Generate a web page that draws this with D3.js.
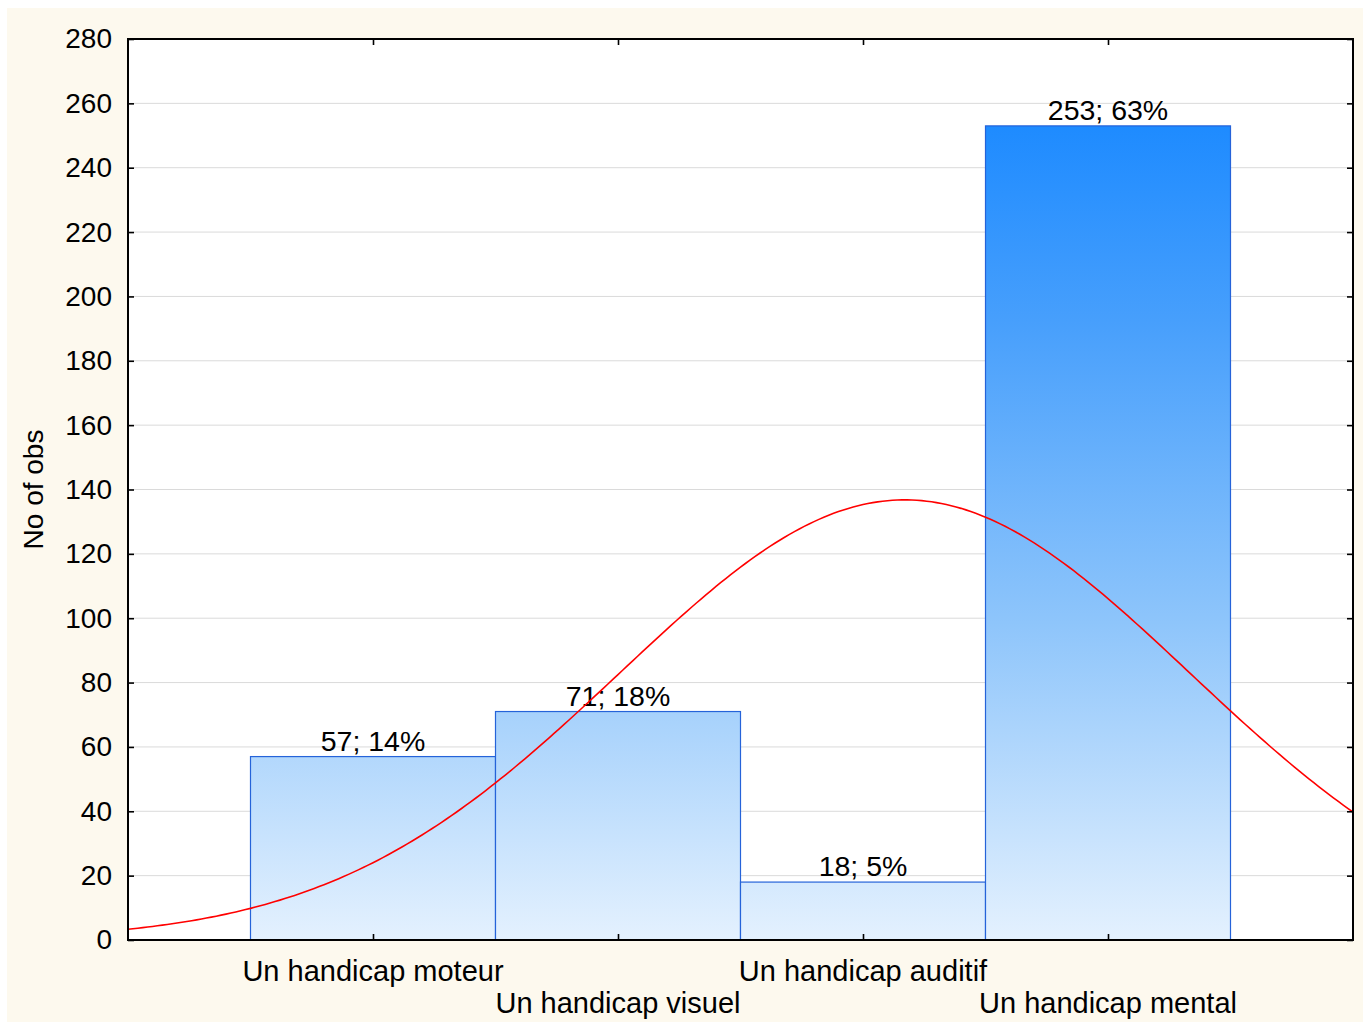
<!DOCTYPE html>
<html>
<head>
<meta charset="utf-8">
<script src="https://cdn.jsdelivr.net/npm/d3@7"></script>
<style>
  html, body { margin: 0; padding: 0; background: #ffffff; }
  svg { display: block; }
  text { font-family: "Liberation Sans", Arial, sans-serif; fill: #000; }
</style>
</head>
<body>
<script>
// ---- data ----
const categories = ["Un handicap moteur", "Un handicap visuel", "Un handicap auditif", "Un handicap mental"];
const counts = [57, 71, 18, 253];
const percentLabels = ["14%", "18%", "5%", "63%"];
const yTickValues = [0, 20, 40, 60, 80, 100, 120, 140, 160, 180, 200, 220, 240, 260, 280];
const yTitle = "No of obs";

// ---- layout ----
const W = 1370, H = 1022;
const L = 128, T = 39, R = 1353, B = 940;

const svg = d3.select("body").append("svg").attr("width", W).attr("height", H);

// cream background
svg.append("rect").attr("x", 7).attr("y", 8).attr("width", 1356).attr("height", H - 8).attr("fill", "#fdf9ee");
svg.append("rect").attr("x", L).attr("y", T).attr("width", R - L).attr("height", B - T).attr("fill", "#ffffff");

const x = d3.scaleLinear().domain([0, categories.length + 1]).range([L, R]);
const y = d3.scaleLinear().domain([0, 280]).range([B, T]);

const defs = svg.append("defs");
const grad = defs.append("linearGradient").attr("id", "barGrad")
  .attr("gradientUnits", "userSpaceOnUse")
  .attr("x1", 0).attr("x2", 0).attr("y1", y(0)).attr("y2", y(d3.max(counts)));
[[0, "#e4f1fe"], [0.39, "#8ec5fb"], [0.76, "#479ffc"], [1, "#1e8bff"]].forEach(([o, c]) =>
  grad.append("stop").attr("offset", o).attr("stop-color", c));
defs.append("clipPath").attr("id", "plotClip").append("rect")
  .attr("x", L).attr("y", T).attr("width", R - L).attr("height", B - T);

// gridlines
svg.append("g").selectAll("line").data(yTickValues.filter(v => v > 0 && v < 280)).join("line")
  .attr("x1", L).attr("x2", R).attr("y1", d => y(d)).attr("y2", d => y(d))
  .attr("stroke", "#dadada").attr("stroke-width", 1);

// bars
svg.append("g").selectAll("rect").data(counts).join("rect")
  .attr("x", (d, i) => x(i + 0.5))
  .attr("width", (d, i) => x(i + 1.5) - x(i + 0.5))
  .attr("y", d => y(d))
  .attr("height", d => y(0) - y(d))
  .attr("fill", "url(#barGrad)")
  .attr("stroke", "#2563d9").attr("stroke-width", 1.2);

// bar labels
svg.append("g").selectAll("text").data(counts).join("text")
  .attr("x", (d, i) => x(i + 1))
  .attr("y", d => y(d) - 6)
  .attr("text-anchor", "middle")
  .attr("font-size", 28.5)
  .text((d, i) => d + "; " + percentLabels[i]);

// fitted normal curve (from the counts)
const N = d3.sum(counts);
const mean = d3.sum(counts, (d, i) => d * (i + 1)) / N;
const sd = Math.sqrt(d3.sum(counts, (d, i) => d * (i + 1 - mean) ** 2) / N);
const xs = d3.range(0, categories.length + 1 + 0.001, 0.02);
const curve = xs.map(v => [v, N / (sd * Math.sqrt(2 * Math.PI)) * Math.exp(-0.5 * ((v - mean) / sd) ** 2)]);
svg.append("path").datum(curve)
  .attr("clip-path", "url(#plotClip)")
  .attr("d", d3.line().x(d => x(d[0])).y(d => y(d[1])))
  .attr("fill", "none").attr("stroke", "#ff0000").attr("stroke-width", 1.6);

// axes
const xTicks = categories.map((c, i) => i + 1);
const axL = svg.append("g").attr("transform", `translate(${L},0)`)
  .call(d3.axisLeft(y).tickValues(yTickValues).tickSizeInner(-6).tickSizeOuter(0).tickPadding(16));
const axR = svg.append("g").attr("transform", `translate(${R},0)`)
  .call(d3.axisRight(y).tickValues(yTickValues).tickSizeInner(-6).tickSizeOuter(0).tickFormat(""));
const axB = svg.append("g").attr("transform", `translate(0,${B})`)
  .call(d3.axisBottom(x).tickValues(xTicks).tickSizeInner(-6).tickSizeOuter(0).tickFormat(""));
const axT = svg.append("g").attr("transform", `translate(0,${T})`)
  .call(d3.axisTop(x).tickValues(xTicks).tickSizeInner(-6).tickSizeOuter(0).tickFormat(""));
[axL, axR, axB, axT].forEach(g => {
  g.select(".domain").remove();
  g.selectAll(".tick line").attr("stroke", "#000").attr("stroke-width", 1.6);
});
axL.selectAll(".tick text").attr("font-size", 28).attr("font-family", "'Liberation Sans', Arial, sans-serif").attr("fill", "#000");

// frame
svg.append("rect").attr("x", L).attr("y", T).attr("width", R - L).attr("height", B - T)
  .attr("fill", "none").attr("stroke", "#000").attr("stroke-width", 2);

// x category labels (staggered)
svg.append("g").selectAll("text").data(categories).join("text")
  .attr("x", (d, i) => x(i + 1))
  .attr("y", (d, i) => i % 2 === 0 ? 981 : 1013)
  .attr("text-anchor", "middle")
  .attr("font-size", 29)
  .text(d => d);

// y title
svg.append("text")
  .attr("transform", `translate(43,${(T + B) / 2}) rotate(-90)`)
  .attr("text-anchor", "middle")
  .attr("font-size", 28)
  .text(yTitle);
</script>
</body>
</html>
